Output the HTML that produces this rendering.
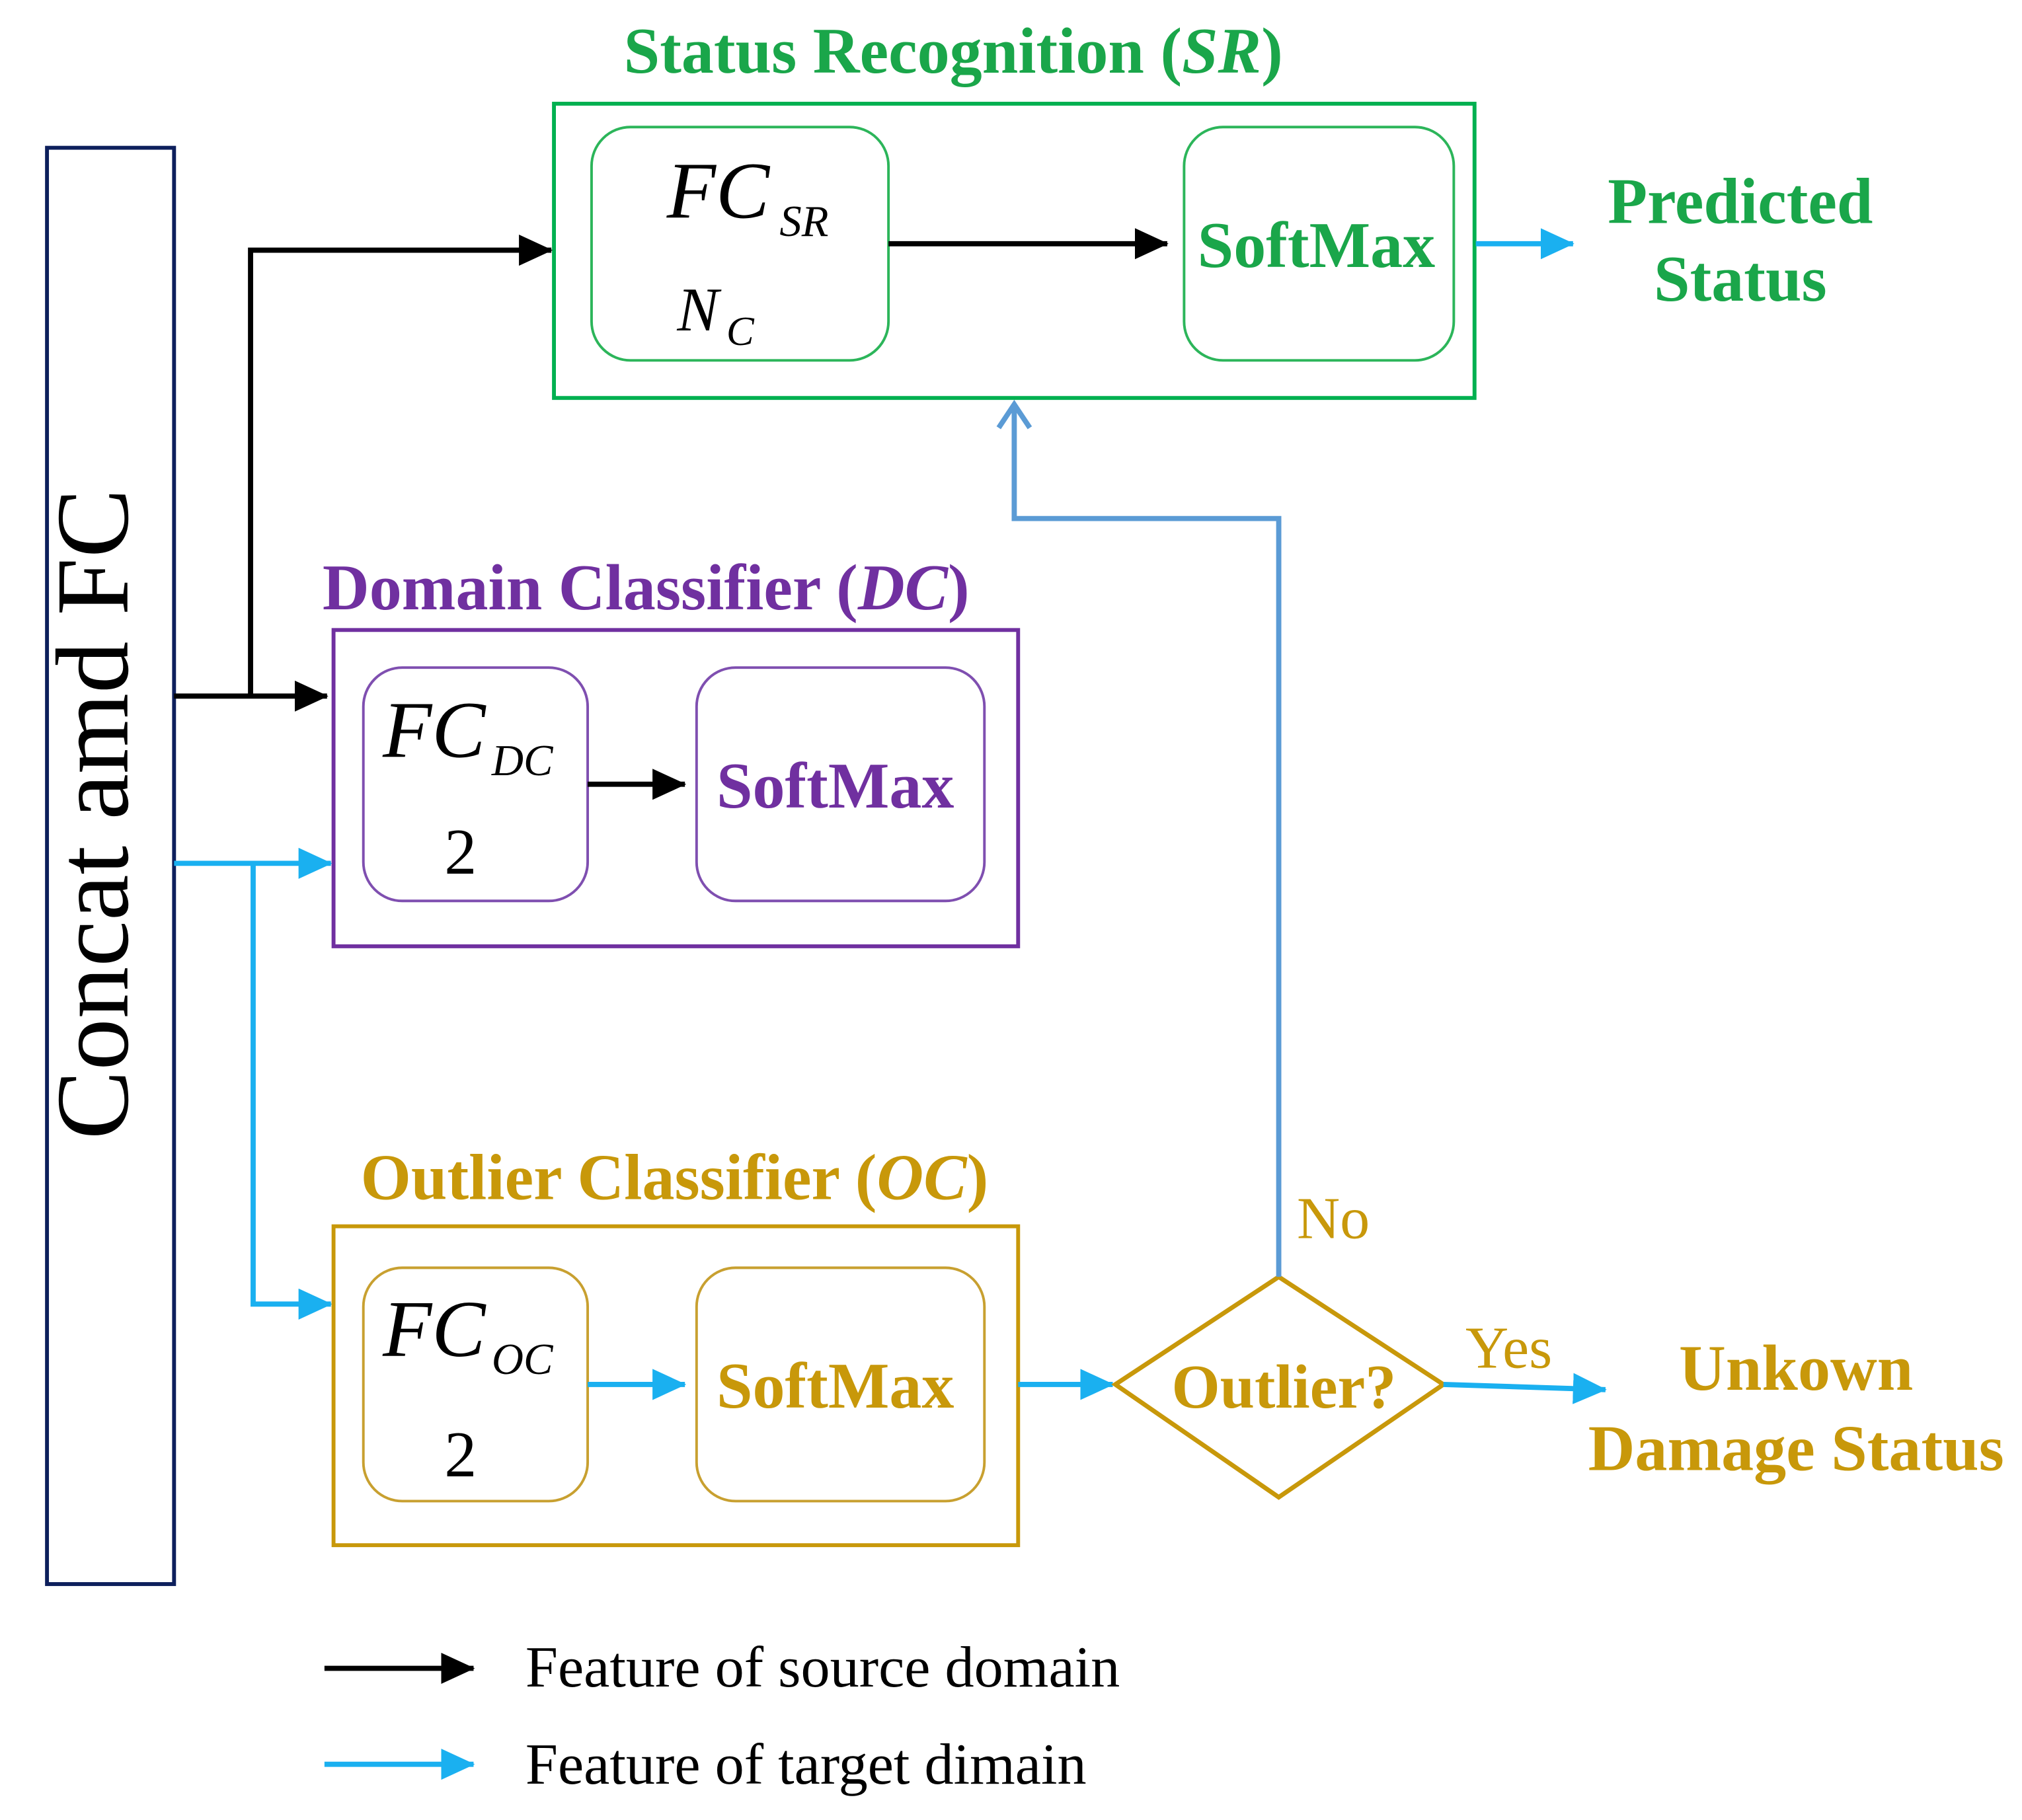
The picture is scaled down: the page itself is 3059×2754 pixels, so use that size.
<!DOCTYPE html>
<html><head><meta charset="utf-8"><style>html,body{margin:0;padding:0;background:#fff}svg{display:block}</style></head>
<body>
<svg width="3059" height="2754" viewBox="0 0 1559 1404" xmlns="http://www.w3.org/2000/svg" font-family="Liberation Serif, serif">
<defs>
<marker id="ab" markerWidth="26" markerHeight="24" refX="25" refY="12" orient="auto" markerUnits="userSpaceOnUse" viewBox="0 0 26 24"><path d="M0,0 L26,12 L0,24z" fill="#000"/></marker>
<marker id="abl" markerWidth="26" markerHeight="24" refX="25" refY="12" orient="auto" markerUnits="userSpaceOnUse" viewBox="0 0 26 24"><path d="M0,0 L26,12 L0,24z" fill="#1ab0f0"/></marker>
</defs>
<style>
.bk{stroke:#000;stroke-width:4;fill:none}
.bl{stroke:#1ab0f0;stroke-width:4;fill:none}
</style>
<!-- Concat -->
<rect x="36" y="114" width="98" height="1108" fill="none" stroke="#0d1f5c" stroke-width="3"/>
<text transform="translate(98,628) rotate(-90)" text-anchor="middle" font-size="80">Concat amd FC</text>

<!-- SR -->
<text x="735" y="56" text-anchor="middle" font-size="50" font-weight="bold" fill="#1aa64a">Status Recognition (<tspan font-style="italic">SR</tspan>)</text>
<rect x="427" y="80" width="710" height="227" fill="none" stroke="#00b050" stroke-width="3"/>
<rect x="456" y="98" width="229" height="180" rx="30" fill="none" stroke="#2cb55a" stroke-width="2"/>
<text x="514" y="168" font-size="62" font-style="italic">FC</text>
<text x="601" y="182" font-size="34" font-style="italic">SR</text>
<text x="522" y="255" font-size="48" font-style="italic">N</text>
<text x="560" y="266" font-size="32" font-style="italic">C</text>
<line x1="685" y1="188" x2="900" y2="188" class="bk" marker-end="url(#ab)" stroke-width="3.5"/>
<rect x="913" y="98" width="208" height="180" rx="30" fill="none" stroke="#2cb55a" stroke-width="2"/>
<text x="1015" y="206" text-anchor="middle" font-size="50" font-weight="bold" fill="#1aa64a">SoftMax</text>
<line x1="1138" y1="188" x2="1213" y2="188" class="bl" marker-end="url(#abl)"/>
<text x="1342" y="172" text-anchor="middle" font-size="50" font-weight="bold" fill="#1aa64a">Predicted</text>
<text x="1342" y="232" text-anchor="middle" font-size="50" font-weight="bold" fill="#1aa64a">Status</text>

<!-- black paths -->
<line x1="134" y1="537" x2="252" y2="537" class="bk" marker-end="url(#ab)"/>
<polyline points="193,537 193,193 425,193" class="bk" marker-end="url(#ab)" stroke-width="3.5"/>

<!-- DC -->
<text x="498" y="470" text-anchor="middle" font-size="50" font-weight="bold" fill="#7030a0">Domain Classifier (<tspan font-style="italic">DC</tspan>)</text>
<rect x="257" y="486" width="528" height="244" fill="none" stroke="#7030a0" stroke-width="3"/>
<rect x="280" y="515" width="173" height="180" rx="30" fill="none" stroke="#7f4fb0" stroke-width="2"/>
<text x="295" y="584" font-size="62" font-style="italic">FC</text>
<text x="379" y="598" font-size="34" font-style="italic">DC</text>
<text x="355" y="674" text-anchor="middle" font-size="50">2</text>
<line x1="453" y1="605" x2="528" y2="605" class="bk" marker-end="url(#ab)"/>
<rect x="537" y="515" width="222" height="180" rx="30" fill="none" stroke="#7f4fb0" stroke-width="2"/>
<text x="644" y="623" text-anchor="middle" font-size="50" font-weight="bold" fill="#7030a0">SoftMax</text>

<!-- blue paths -->
<line x1="134" y1="666" x2="255" y2="666" class="bl" marker-end="url(#abl)"/>
<polyline points="195,666 195,1006 255,1006" class="bl" marker-end="url(#abl)"/>

<!-- OC -->
<text x="520" y="925" text-anchor="middle" font-size="50" font-weight="bold" fill="#c8980a">Outlier Classifier (<tspan font-style="italic">OC</tspan>)</text>
<rect x="257" y="946" width="528" height="246" fill="none" stroke="#c8980a" stroke-width="3"/>
<rect x="280" y="978" width="173" height="180" rx="30" fill="none" stroke="#c8a030" stroke-width="2"/>
<text x="295" y="1046" font-size="62" font-style="italic">FC</text>
<text x="379" y="1060" font-size="34" font-style="italic">OC</text>
<text x="355" y="1139" text-anchor="middle" font-size="50">2</text>
<line x1="453" y1="1068" x2="528" y2="1068" class="bl" marker-end="url(#abl)"/>
<rect x="537" y="978" width="222" height="180" rx="30" fill="none" stroke="#c8a030" stroke-width="2"/>
<text x="644" y="1086" text-anchor="middle" font-size="50" font-weight="bold" fill="#c8980a">SoftMax</text>
<line x1="785" y1="1068" x2="858" y2="1068" class="bl" marker-end="url(#abl)"/>

<!-- diamond -->
<polygon points="860,1068 986,985 1113,1068 986,1155" fill="none" stroke="#c8980a" stroke-width="3.5"/>
<text x="990" y="1086" text-anchor="middle" font-size="48" font-weight="bold" fill="#c8980a">Outlier?</text>
<polyline points="986,985 986,400 782,400 782,312" fill="none" stroke="#5b9bd5" stroke-width="4"/>
<polyline points="770,330 782,312 794,330" fill="none" stroke="#5b9bd5" stroke-width="4"/>
<text x="1000" y="955" font-size="46" fill="#c8980a">No</text>
<text x="1130" y="1055" font-size="46" fill="#c8980a">Yes</text>
<line x1="1113" y1="1068" x2="1238" y2="1072" class="bl" marker-end="url(#abl)"/>
<text x="1385" y="1072" text-anchor="middle" font-size="50" font-weight="bold" fill="#c8980a">Unkown</text>
<text x="1385" y="1134" text-anchor="middle" font-size="50" font-weight="bold" fill="#c8980a">Damage Status</text>

<!-- legend -->
<line x1="250" y1="1287" x2="365" y2="1287" class="bk" marker-end="url(#ab)"/>
<text x="405" y="1301" font-size="45">Feature of source domain</text>
<line x1="250" y1="1361" x2="365" y2="1361" class="bl" marker-end="url(#abl)"/>
<text x="405" y="1376" font-size="45">Feature of target dimain</text>
</svg>
</body></html>
